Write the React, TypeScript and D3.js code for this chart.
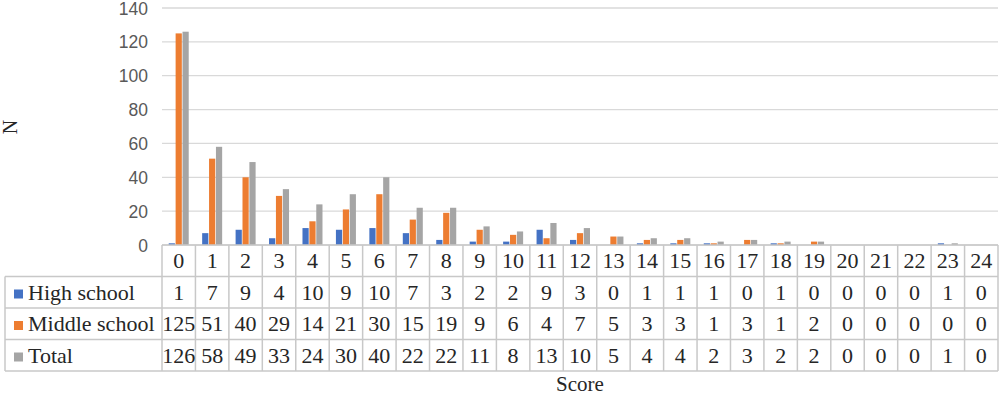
import * as d3 from "d3";
import React from "react";

const scores = ["0","1","2","3","4","5","6","7","8","9","10","11","12","13","14","15","16","17","18","19","20","21","22","23","24"];
const highSchool = [1,7,9,4,10,9,10,7,3,2,2,9,3,0,1,1,1,0,1,0,0,0,0,1,0];
const middleSchool = [125,51,40,29,14,21,30,15,19,9,6,4,7,5,3,3,1,3,1,2,0,0,0,0,0];
const total = [126,58,49,33,24,30,40,22,22,11,8,13,10,5,4,4,2,3,2,2,0,0,0,1,0];
const yTicks = [0,20,40,60,80,100,120,140];

const series = [
  { name: "High school", values: highSchool, color: "#4472C4" },
  { name: "Middle school", values: middleSchool, color: "#ED7D31" },
  { name: "Total", values: total, color: "#A5A5A5" },
];

export default function App() {
  const W = 1000;
  const H = 396;
  const left = 162;
  const right = 998;
  const top = 8;
  const base = 245;
  const rowH = 31.5;
  const tableLeft = 5;

  const x = d3.scaleBand().domain(scores).range([left, right]);
  const y = d3.scaleLinear().domain([0, 140]).range([base, top]);
  const inner = d3
    .scaleBand()
    .domain(series.map((s) => s.name))
    .range([0, 20])
    .paddingInner(0.1);
  const off = (x.bandwidth() - 20) / 2;

  const serif = "'Liberation Serif', 'Times New Roman', serif";
  const sans = "'Liberation Sans', Arial, sans-serif";
  const border = "#c8c8c8";

  // row tops: header, then one per series
  const rowTop = (i: number) => base + i * rowH;
  const tableBottom = rowTop(4);

  return (
    <svg width={W} height={H} style={{ position: "absolute", left: 0, top: 0, background: "#fff" }}>
      {/* gridlines */}
      {yTicks.map((t) => (
        <line key={t} x1={left} x2={right} y1={y(t)} y2={y(t)} stroke="#d9d9d9" strokeWidth={1.3} />
      ))}
      {yTicks.map((t) => (
        <text key={"l" + t} x={148} y={y(t) + 6.5} textAnchor="end" fontFamily={sans} fontSize={17.5} fill="#595959">
          {t}
        </text>
      ))}

      {/* bars */}
      {series.map((s) =>
        s.values.map((v, i) => (
          <rect
            key={s.name + i}
            x={(x(scores[i]) || 0) + off + (inner(s.name) || 0)}
            y={y(v)}
            width={inner.bandwidth()}
            height={base - y(v)}
            fill={s.color}
          />
        ))
      )}

      {/* data table */}
      <g stroke={border} strokeWidth={1.5} fill="none">
        {scores.map((c) => (
          <line key={"v" + c} x1={x(c)} x2={x(c)} y1={base} y2={tableBottom} />
        ))}
        <line x1={right} x2={right} y1={base} y2={tableBottom} />
        <line x1={left} x2={right} y1={base} y2={base} />
        {[1, 2, 3, 4].map((r) => (
          <line key={"h" + r} x1={tableLeft} x2={right} y1={rowTop(r)} y2={rowTop(r)} />
        ))}
        <line x1={tableLeft} x2={tableLeft} y1={rowTop(1)} y2={tableBottom} />
      </g>

      {scores.map((c) => (
        <text
          key={"c" + c}
          x={(x(c) || 0) + x.bandwidth() / 2}
          y={rowTop(0) + 23}
          textAnchor="middle"
          fontFamily={serif}
          fontSize={22}
          fill="#262626"
        >
          {c}
        </text>
      ))}

      {series.map((s, r) => (
        <g key={"row" + s.name}>
          <rect x={14} y={rowTop(r + 1) + 13} width={9} height={9} fill={s.color} />
          <text x={28} y={rowTop(r + 1) + 23} fontFamily={serif} fontSize={22} fill="#262626">
            {s.name}
          </text>
          {s.values.map((v, i) => (
            <text
              key={i}
              x={(x(scores[i]) || 0) + x.bandwidth() / 2}
              y={rowTop(r + 1) + 23}
              textAnchor="middle"
              fontFamily={serif}
              fontSize={22}
              fill="#262626"
            >
              {v}
            </text>
          ))}
        </g>
      ))}

      {/* axis titles */}
      <text x={(left + right) / 2} y={391} textAnchor="middle" fontFamily={serif} fontSize={21} fill="#262626">
        Score
      </text>
      <text
        transform="translate(17,127) rotate(-90)"
        textAnchor="middle"
        fontFamily={serif}
        fontSize={20}
        fill="#262626"
      >
        N
      </text>
    </svg>
  );
}
